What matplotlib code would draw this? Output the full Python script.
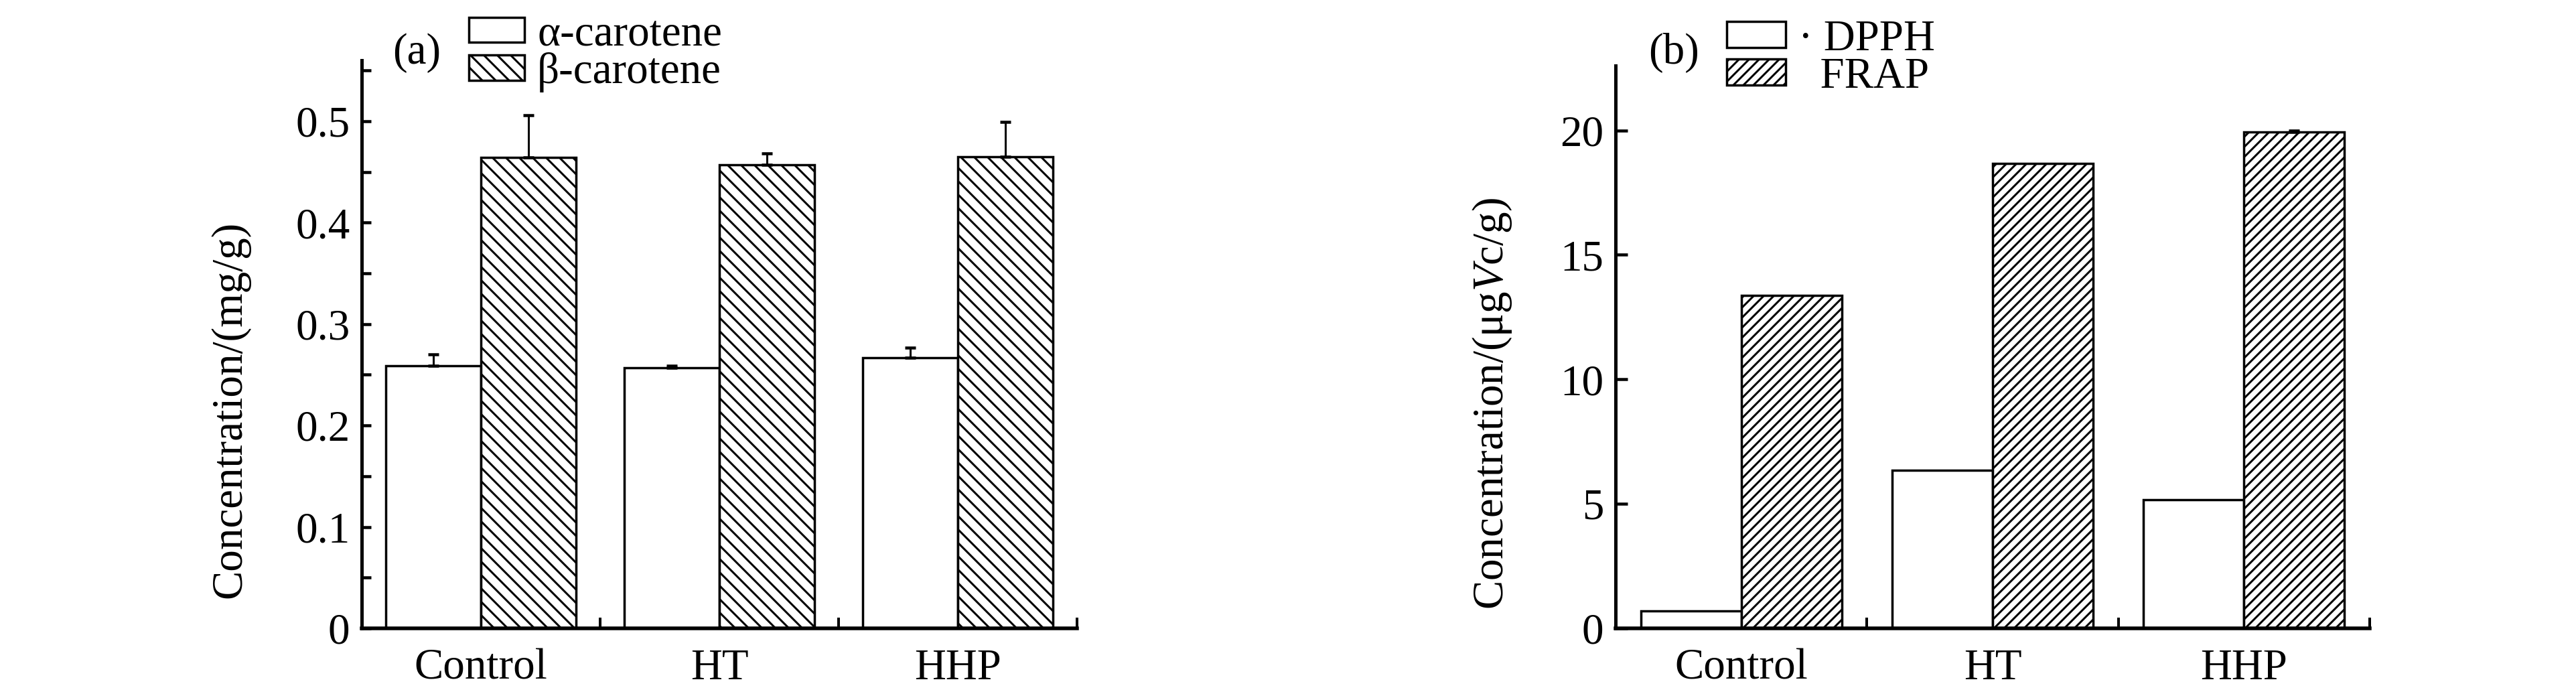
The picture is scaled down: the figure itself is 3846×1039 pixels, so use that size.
import numpy as np
import matplotlib
matplotlib.use('Agg')
import matplotlib.pyplot as plt

# data
groups = ['Control', 'HT', 'HHP']
alpha_car = [0.259, 0.257, 0.267]
alpha_err = [0.011, 0.002, 0.010]
beta_car = [0.464, 0.457, 0.465]
beta_err = [0.042, 0.011, 0.034]
dpph = [0.71, 6.34, 5.17]
frap = [13.37, 18.67, 19.93]
frap_err = [0.0, 0.0, 0.07]

yticks_a = [0, 0.1, 0.2, 0.3, 0.4, 0.5]
ylabels_a = ['0', '0.1', '0.2', '0.3', '0.4', '0.5']
yticks_b = [0, 5, 10, 15, 20]
ylabels_b = ['0', '5', '10', '15', '20']

plt.rcParams['font.family'] = ['Liberation Serif', 'DejaVu Serif']
plt.rcParams['mathtext.fontset'] = 'custom'
plt.rcParams['mathtext.rm'] = 'Liberation Serif'
plt.rcParams['mathtext.it'] = 'Liberation Serif:italic'
plt.rcParams['hatch.linewidth'] = 1.2
plt.rcParams['hatch.color'] = 'black'

FS = 26
DPI = 180
fig = plt.figure(figsize=(3846 / DPI, 1039 / DPI), dpi=DPI)

axA = fig.add_axes([540 / 3846, 101 / 1039, 1068 / 3846, 848 / 1039])
axB = fig.add_axes([2412 / 3846, 101 / 1039, 1126 / 3846, 840 / 1039])

x = np.arange(len(groups))
w = 0.4
bar_kw = dict(width=w, align='edge', edgecolor='black', linewidth=1.4)
err_kw = dict(fmt='none', ecolor='black', elinewidth=1.2, capsize=3.3, capthick=1.8)
leg_kw = dict(loc='upper left', frameon=False, fontsize=FS, borderpad=0, borderaxespad=0,
              handletextpad=0.3, labelspacing=-0.05)


def style_axes(ax, ymax, yticks, ylabels):
    ax.set_xlim(-0.5, 2.5)
    ax.set_ylim(0, ymax)
    for s in ['top', 'right']:
        ax.spines[s].set_visible(False)
    ax.spines['left'].set_linewidth(2.0)
    ax.spines['bottom'].set_linewidth(2.2)
    ax.set_xticks(x)
    ax.set_xticklabels(groups, fontsize=FS)
    ax.set_xticks([0.5, 1.5, 2.5], minor=True)
    ax.tick_params(axis='x', which='major', length=0, pad=12)
    ax.tick_params(axis='x', which='minor', direction='in', length=6.4, width=1.6)
    ax.set_yticks(yticks)
    ax.set_yticklabels(ylabels, fontsize=FS)


# (a) carotenes
axA.bar(x - w, alpha_car, facecolor='white', **bar_kw)
axA.bar(x, beta_car, facecolor='white', hatch='\\\\\\', **bar_kw)
axA.errorbar(x - w / 2, alpha_car, yerr=[np.zeros(3), alpha_err], **err_kw)
axA.errorbar(x + w / 2, beta_car, yerr=[np.zeros(3), beta_err], **err_kw)
style_axes(axA, 0.56, yticks_a, ylabels_a)
axA.set_yticks(np.arange(0.05, 0.56, 0.1), minor=True)
axA.tick_params(axis='y', which='both', direction='in', length=5.4, width=1.8, pad=7)
axA.set_ylabel('Concentration/(mg/g)', fontsize=FS, va='center')
axA.yaxis.set_label_coords(-0.184, 0.385)
axA.text(0.077, 1.013, '(a)', transform=axA.transAxes, fontsize=FS, ha='center', va='center')
axA.legend(['\u03b1-carotene', '\u03b2-carotene'],
           bbox_to_anchor=(700 / 3846, 0.979), bbox_transform=fig.transFigure,
           handlelength=1.27, handleheight=0.5, **leg_kw)

# (b) antioxidant capacity
axB.bar(x - w, dpph, facecolor='white', **bar_kw)
axB.bar(x, frap, facecolor='white', hatch='////', **bar_kw)
has_err = np.array(frap_err) > 0
axB.errorbar((x + w / 2)[has_err], np.array(frap)[has_err],
             yerr=[np.zeros(has_err.sum()), np.array(frap_err)[has_err]], **err_kw)
style_axes(axB, 22.6, yticks_b, ylabels_b)
axB.tick_params(axis='y', which='major', direction='in', length=7.2, width=1.8, pad=7)
axB.set_ylabel('Concentration/(\u03bcg$\\it{V}$c/g)', fontsize=FS, va='center')
axB.yaxis.set_label_coords(-0.163, 0.40)
axB.text(0.077, 1.0226, '(b)', transform=axB.transAxes, fontsize=FS, ha='center', va='center')
axB.legend(['\u00b7 DPPH', '  FRAP'],
           bbox_to_anchor=(2578 / 3846, 0.972), bbox_transform=fig.transFigure,
           handlelength=1.35, handleheight=0.54, **leg_kw)

fig.savefig('out.png', dpi=DPI, facecolor='white')
